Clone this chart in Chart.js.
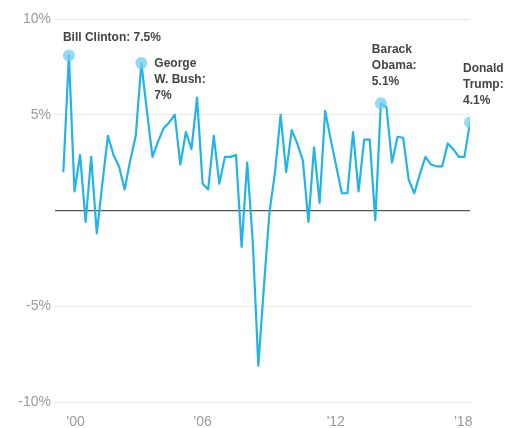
<!DOCTYPE html>
<html>
<head>
<meta charset="utf-8">
<script src="https://cdn.jsdelivr.net/npm/chart.js@4"></script>
<style>
    html, body { margin: 0; padding: 0; background: #fff; }
    #wrap { width: 512px; height: 428px; position: relative; }
</style>
</head>
<body>
<div id="wrap"><canvas id="gdpChart"></canvas></div>
<script>
// Quarterly GDP growth, 2000 Q1 .. 2018 Q2 (annualized %)
const firstYear = 2000;
const growth = [
    2.0, 8.1, 1.0, 2.9, -0.6, 2.8, -1.2, 1.4,
    3.9, 2.9, 2.3, 1.1, 2.6, 3.9, 7.7, 5.2,
    2.8, 3.6, 4.3, 4.6, 5.0, 2.4, 4.1, 3.2,
    5.9, 1.4, 1.1, 3.9, 1.4, 2.8, 2.8, 2.9,
    -1.9, 2.5, -1.6, -8.1, -4.0, -0.1, 2.0, 5.0,
    2.0, 4.2, 3.5, 2.6, -0.6, 3.3, 0.4, 5.2,
    3.7, 2.3, 0.9, 0.9, 4.1, 1.0, 3.7, 3.7,
    -0.5, 5.6, 5.4, 2.5, 3.85, 3.8, 1.6, 0.9,
    1.9, 2.8, 2.4, 2.3, 2.3, 3.5, 3.2, 2.8,
    2.8, 4.6,
];

// Presidents' best quarters
const highlightIdx = [1, 14, 57, 73];
const highlightText = [
    ["Bill Clinton: 7.5%"],
    ["George", "W. Bush:", "7%"],
    ["Barack", "Obama:", "5.1%"],
    ["Donald", "Trump:", "4.1%"],
];

// Axis ticks
const xTickPos = [2.2, 25, 48.9, 71.8];
const xTickLabels = ["'00", "'06", "'12", "'18"];
const yTicks = [-10, -5, 0, 5, 10];

const lineColor = "#22b4e6";
const dotColor = "rgba(112, 206, 240, 0.75)";
const labelFont = "bold 12px 'Liberation Sans', Arial, sans-serif";

// label placement relative to the highlighted point [dx, y of first line]
const labelOffsets = [
    { dx: -6, y: -18 },
    { dx: 13, y: 1 },
    { dx: -9, y: -54 },
    { dx: -7, y: -54 },
];

const annotationsPlugin = {
    id: "presidentLabels",
    afterDatasetsDraw(chart) {
        const ctx = chart.ctx;
        const xs = chart.scales.x;
        const ys = chart.scales.y;
        ctx.save();
        ctx.font = labelFont;
        ctx.fillStyle = "#444";
        ctx.textBaseline = "middle";
        ctx.textAlign = "left";
        highlightIdx.forEach((idx, i) => {
            const px = xs.getPixelForValue(idx);
            const py = ys.getPixelForValue(growth[idx]);
            const off = labelOffsets[i];
            highlightText[i].forEach((line, j) => {
                ctx.fillText(line, px + off.dx, py + off.y + j * 16);
            });
        });
        ctx.restore();
    },
};

const points = growth.map((v, i) => ({ x: i, y: v }));

new Chart(document.getElementById("gdpChart").getContext("2d"), {
    type: "line",
    data: {
        datasets: [
            {
                data: points,
                borderColor: lineColor,
                borderWidth: 2.2,
                borderJoinStyle: "round",
                tension: 0,
                fill: false,
                pointRadius: (c) => (highlightIdx.includes(c.dataIndex) ? 6 : 0),
                pointBackgroundColor: dotColor,
                pointBorderWidth: 0,
            },
        ],
    },
    options: {
        responsive: true,
        maintainAspectRatio: false,
        animation: false,
        layout: {
            padding: { top: 19, right: 42, bottom: 0, left: 0 },
        },
        plugins: {
            legend: { display: false },
            tooltip: { enabled: false },
        },
        scales: {
            x: {
                type: "linear",
                min: -1.5,
                max: 73,
                grid: { display: false },
                border: { display: false },
                afterBuildTicks: (scale) => {
                    scale.ticks = xTickPos.map((v) => ({ value: v }));
                },
                afterFit: (scale) => {
                    scale.height = 26;
                },
                ticks: {
                    autoSkip: false,
                    maxRotation: 0,
                    padding: 4,
                    color: "#9a9a9a",
                    font: { size: 14, family: "'Liberation Sans', Arial, sans-serif" },
                    callback: (value, index) => xTickLabels[index],
                },
            },
            y: {
                min: -10,
                max: 10,
                afterBuildTicks: (scale) => {
                    scale.ticks = yTicks.map((v) => ({ value: v }));
                },
                afterFit: (scale) => {
                    scale.width = 55;
                },
                border: { display: false },
                grid: {
                    drawTicks: false,
                    color: (c) => (c.tick && c.tick.value === 0 ? "#555" : "#e9e9e9"),
                    lineWidth: (c) => (c.tick && c.tick.value === 0 ? 1.3 : 1),
                },
                ticks: {
                    padding: 4,
                    color: "#9a9a9a",
                    font: { size: 14, family: "'Liberation Sans', Arial, sans-serif" },
                    // the zero line carries no label in the original
                    callback: (value) => (value === 0 ? "" : value + "%"),
                },
            },
        },
    },
    plugins: [annotationsPlugin],
});
</script>
</body>
</html>
